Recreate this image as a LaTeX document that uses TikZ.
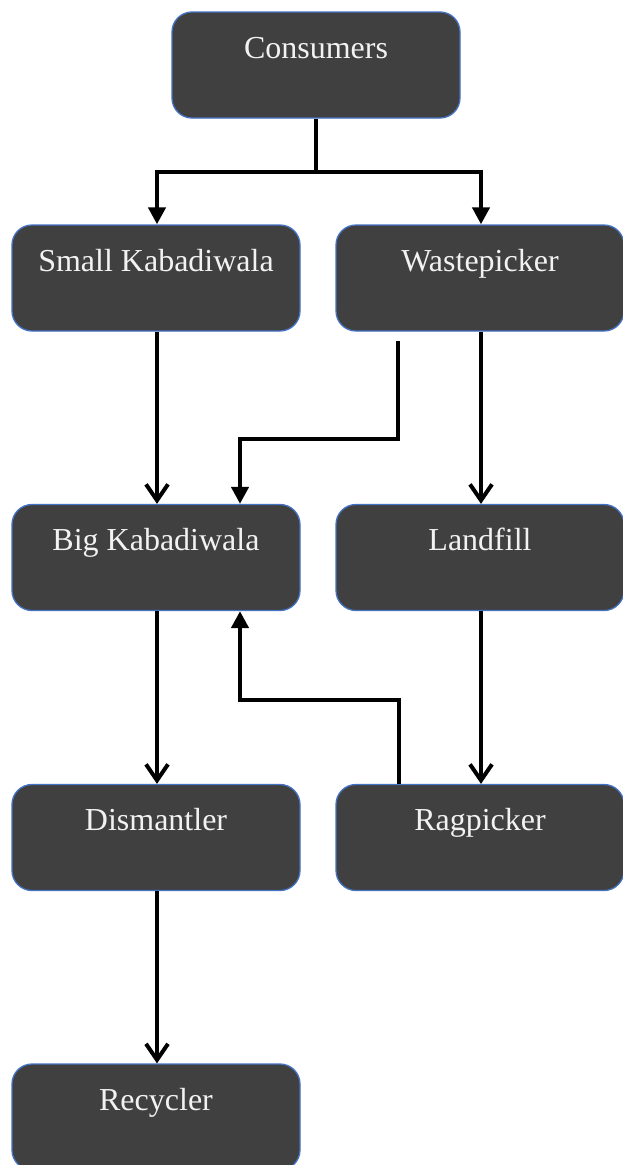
\documentclass[tikz,border=0pt]{standalone}
\usepackage{fontspec}
\setmainfont{Liberation Serif}
\usetikzlibrary{arrows.meta}
\definecolor{boxfill}{HTML}{404040}
\definecolor{boxline}{HTML}{4472C4}
\definecolor{txtcol}{HTML}{F2F2F2}
\tikzset{
  box/.style={draw=boxline, line width=1.3pt, fill=boxfill, rounded corners=20pt,
    minimum width=288pt, minimum height=106pt, inner sep=0pt},
  txt/.style={anchor=base, text=txtcol, font=\fontsize{32}{36}\selectfont, inner sep=0pt},
  conn/.style={line width=4.5pt, draw=black},
  openarr/.style={conn, -{Straight Barb[length=16pt,width=22pt,line width=4pt]}},
  fillarr/.style={conn, -{Triangle[length=17pt,width=17pt]}},
}
\begin{document}
\begin{tikzpicture}[x=1pt,y=-1pt]
\useasboundingbox (0,0) rectangle (623,1165);
\clip (0,0) rectangle (623,1165);
% boxes
\node[box] (cons) at (316,65) {};
\node[box] (small) at (156,278) {};
\node[box] (waste) at (480,278) {};
\node[box] (big) at (156,557.5) {};
\node[box] (land) at (480,557.5) {};
\node[box] (dism) at (156,837.5) {};
\node[box] (rag) at (480,837.5) {};
\node[box] (recy) at (156,1117) {};
% texts
\node[txt] (tcons) at ([yshift=-47pt]cons.north) {Consumers};
\node[txt] (tsmall) at ([yshift=-47pt]small.north) {Small Kabadiwala};
\node[txt] (twaste) at ([yshift=-47pt]waste.north) {Wastepicker};
\node[txt] (tbig) at ([yshift=-47pt]big.north) {Big Kabadiwala};
\node[txt] (tland) at ([yshift=-47pt]land.north) {Landfill};
\node[txt] (tdism) at ([yshift=-47pt]dism.north) {Dismantler};
\node[txt] (trag) at ([yshift=-47pt]rag.north) {Ragpicker};
\node[txt] (trecy) at ([yshift=-47pt]recy.north) {Recycler};
% helper coordinates
\coordinate (split) at (316,172);
\coordinate (wpstart) at (398,341);
\coordinate (wpbend) at (398,439);
\coordinate (rgbend) at (399,700);
% connectors
\draw[conn] (cons.south) -- (split);
\draw[fillarr] (split) -| ([xshift=1pt]small.north);
\draw[fillarr] (split) -| ([xshift=1pt]waste.north);
\draw[openarr] ([xshift=1pt]small.south) -- ([xshift=1pt]big.north);
\draw[fillarr] (wpstart) -- (wpbend) -| ([xshift=84pt]big.north);
\draw[openarr] ([xshift=1pt]waste.south) -- ([xshift=1pt]land.north);
\draw[openarr] ([xshift=1pt]land.south) -- ([xshift=1pt]rag.north);
\draw[fillarr] (rag.north -| rgbend) -- (rgbend) -| ([xshift=84pt]big.south);
\draw[openarr] ([xshift=1pt]big.south) -- ([xshift=1pt]dism.north);
\draw[openarr] ([xshift=1pt]dism.south) -- ([xshift=1pt]recy.north);
\end{tikzpicture}
\end{document}
